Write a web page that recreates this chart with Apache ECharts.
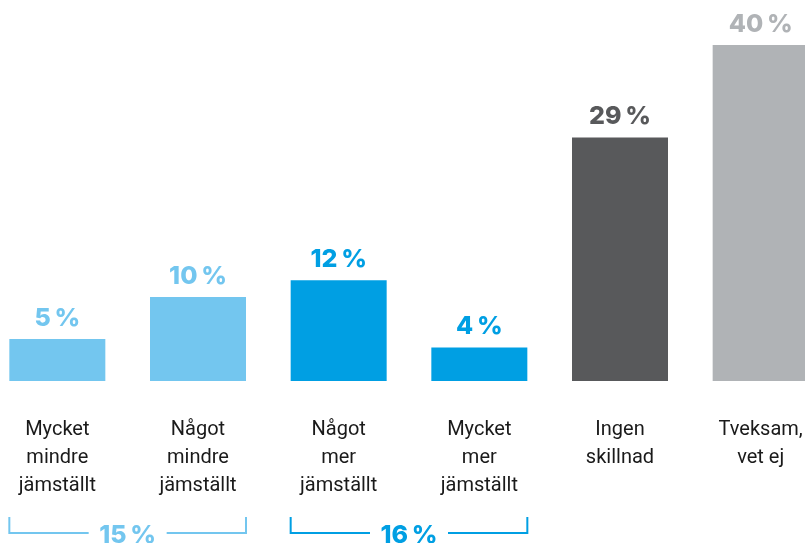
<!DOCTYPE html>
<html>
<head>
<meta charset="utf-8">
<script src="https://cdn.jsdelivr.net/npm/echarts@6/dist/echarts.min.js"></script>
<style>
html,body{margin:0;padding:0;background:#fff}
#main{width:805px;height:543px}
</style>
</head>
<body>
<div id="main"></div>
<script>
var categories = ['Mycket\nmindre\njämställt', 'Något\nmindre\njämställt', 'Något\nmer\njämställt', 'Mycket\nmer\njämställt', 'Ingen\nskillnad', 'Tveksam,\nvet ej']
var values = [5, 10, 12, 4, 29, 40]
var barColors = ['#73c6ef', '#73c6ef', '#009fe3', '#009fe3', '#58595b', '#b0b3b6']
// brackets under the bars: which categories they group
var groups = [[0, 1], [2, 3]]
var groupColors = ['#73c6ef', '#009fe3']

var myChart = echarts.init(document.getElementById('main'))

var data = []
for (var i = 0; i < values.length; i++) {
    data.push({
        value: values[i],
        itemStyle: {color: barColors[i]},
        label: {color: barColors[i]}
    })
}

var option = {
    animation: false,
    grid: {left: -13, width: 844, top: 45, bottom: 162, outerBoundsMode: 'none', containLabel: false},
    xAxis: {
        type: 'category',
        data: categories,
        axisLine: {show: false},
        axisTick: {show: false},
        axisLabel: {
            interval: 0,
            margin: 35,
            color: '#1a1a1a',
            fontFamily: 'Liberation Sans Narrow, Roboto, sans-serif',
            fontSize: 20,
            lineHeight: 28,
            verticalAlign: 'top'
        }
    },
    yAxis: {
        type: 'value',
        min: 0,
        max: 40,
        show: false,
        splitLine: {show: false}
    },
    series: [{
        type: 'bar',
        barWidth: 96,
        data: data,
        label: {
            show: true,
            position: 'top',
            distance: 8,
            fontFamily: 'Inter, sans-serif',
            fontWeight: 800,
            fontSize: 25,
            formatter: function (p) { return p.value + '\u2009%' }
        }
    }]
}
myChart.setOption(option)

// brackets with sums, placed from the axis scale
var graphics = []
groups.forEach(function (g, k) {
    var a = myChart.convertToPixel({xAxisIndex: 0}, g[0]) - 48
    var b = myChart.convertToPixel({xAxisIndex: 0}, g[g.length - 1]) + 48
    var mid = (a + b) / 2
    var sum = 0
    g.forEach(function (idx) { sum += values[idx] })
    var c = groupColors[k]
    graphics.push({
        type: 'polyline',
        shape: {points: [[a, 517], [a, 533], [mid - 39, 533]]},
        style: {stroke: c, lineWidth: 2, fill: null}
    })
    graphics.push({
        type: 'polyline',
        shape: {points: [[mid + 39, 533], [b, 533], [b, 517]]},
        style: {stroke: c, lineWidth: 2, fill: null}
    })
    graphics.push({
        type: 'text',
        x: mid,
        y: 535,
        style: {
            text: sum + '\u2009%',
            fill: c,
            font: '800 25px Inter, sans-serif',
            textAlign: 'center',
            textVerticalAlign: 'middle'
        }
    })
})
myChart.setOption({graphic: graphics})
</script>
</body>
</html>
